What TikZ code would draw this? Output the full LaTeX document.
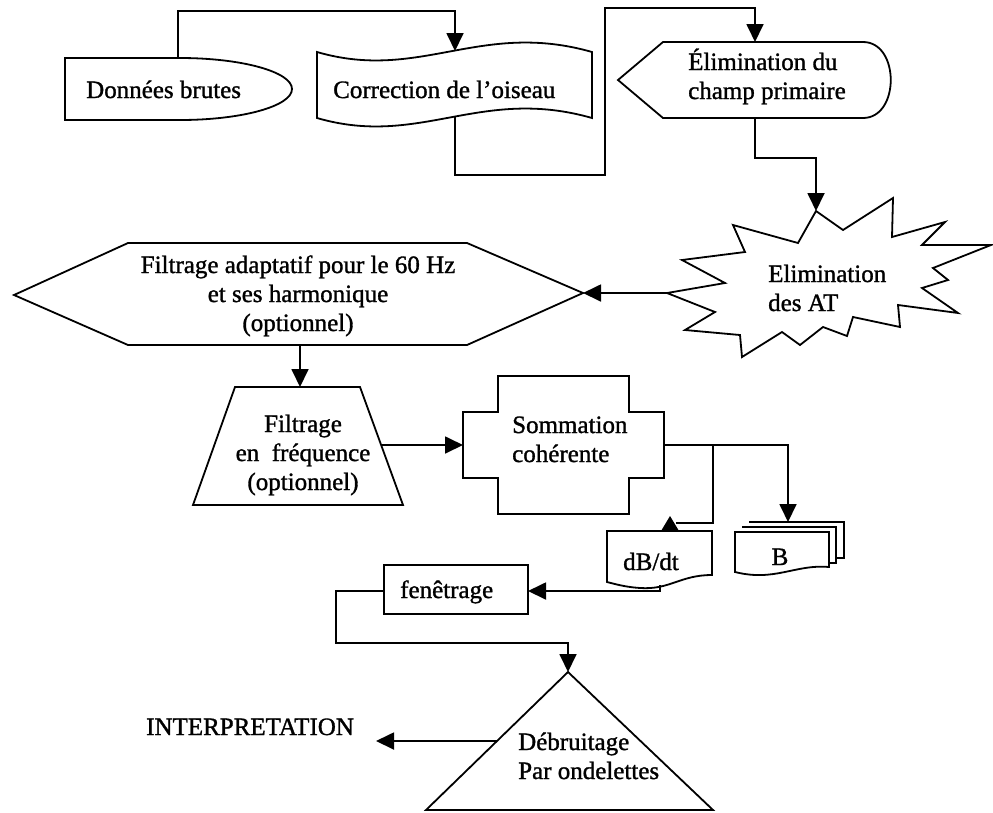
\documentclass[tikz,border=0pt]{standalone}
\usepackage{fontspec}
\setmainfont{Liberation Serif}
\newfontfamily\heavy{Liberation Serif}[FakeBold=1.2]
\usetikzlibrary{arrows.meta}
\newcommand{\mlines}[2]{\begin{tabular}[t]{@{}#1@{}}#2\end{tabular}}
\begin{document}
\begin{tikzpicture}[x=1pt,y=-1pt,
  shp/.style={draw=black, line width=1.8pt, line join=miter},
  conn/.style={draw=black, line width=1.8pt},
  arr/.style={conn, -{Triangle[length=18pt,width=17pt]}},
  lbl/.style={inner sep=0pt, font=\heavy\fontsize{25}{29}\selectfont}]
\useasboundingbox (0,0) rectangle (993,812);

% ---------- shapes ----------
% Donnees brutes (delay shape)
\draw[shp] (65,58) -- (180,58) arc[start angle=-90, end angle=90, x radius=112, y radius=31] -- (65,120) -- cycle;
% Correction de l'oiseau (punched tape)
\draw[shp] (317,52) .. controls (420,82) and (480,20) .. (592,52) -- (592,118)
  .. controls (480,86) and (420,148) .. (317,118) -- cycle;
% Elimination du champ primaire (display)
\draw[shp] (618,80) -- (663,42) -- (863,42) .. controls (900,42) and (900,118) .. (863,118) -- (663,118) -- cycle;
% Elimination des AT (burst)
\draw[shp] (816,211) -- (843,230) -- (893,198) -- (892,237) -- (945,222) -- (922,245) -- (991,245)
  -- (933,268) -- (948,280) -- (922,288) -- (958,313) -- (898,305) -- (900,327) -- (853,317)
  -- (847,336) -- (823,327) -- (800,345) -- (782,332) -- (742,357) -- (740,335) -- (685,330)
  -- (715,312) -- (667,293) -- (725,283) -- (682,260) -- (745,252) -- (733,225) -- (798,243) -- cycle;
% Hexagon
\draw[shp] (14,295) -- (128,243) -- (467,243) -- (583,293) -- (467,345) -- (128,345) -- cycle;
% Trapezoid
\draw[shp] (235,387) -- (360,387) -- (403,505) -- (193,505) -- cycle;
% Sommation (cross)
\draw[shp] (498,376) -- (629,376) -- (629,412) -- (664,412) -- (664,478) -- (629,478) -- (629,514)
  -- (498,514) -- (498,478) -- (463,478) -- (463,412) -- (498,412) -- cycle;
% dB/dt document
\draw[shp] (607,531) -- (712,531) -- (712,575) .. controls (680,575) and (670,590) .. (640,588)
  .. controls (625,587) and (615,584) .. (607,582) -- cycle;
% B multi-document
\draw[shp] (749,522) -- (844,522) -- (844,558) -- (836,558);
\draw[shp] (742,527) -- (836,527) -- (836,563) -- (829,563);
\draw[shp] (735,532) -- (829,532) -- (829,567) .. controls (795,564) and (775,582) .. (735,572) -- cycle;
% fenetrage box
\node[shp, minimum width=144pt, minimum height=49pt, inner sep=0pt] (fen) at (456,589.5) {};
% Triangle
\draw[shp] (568,672) -- (713,810) -- (426,810) -- cycle;

% ---------- labels ----------
\node[lbl, anchor=base west] (donnees) at (86,98) {Données brutes};
\node[lbl, anchor=base west] (correction) at (333,98) {Correction de l’oiseau};
\node[lbl, anchor=base west] (elimprim) at (688,70) {\mlines{l}{Élimination du\\champ primaire}};
\node[lbl, anchor=base west] (elimat) at (768,282) {\mlines{l}{Elimination\\des AT}};
\node[lbl, anchor=base] (adapt) at (298,273) {\mlines{c}{Filtrage adaptatif pour le 60 Hz\\et ses harmonique\\(optionnel)}};
\node[lbl, anchor=base] (freq) at (303,432) {\mlines{c}{Filtrage\\en~~fréquence\\(optionnel)}};
\node[lbl, anchor=base west] (somm) at (512,433) {\mlines{l}{Sommation\\cohérente}};
\node[lbl, anchor=base west] (dbdt) at (623,570) {dB/dt};
\node[lbl, anchor=base] (btxt) at (780,565) {B};
\node[lbl, anchor=base west] (fentxt) at (400,598) {fenêtrage};
\node[lbl, anchor=base west] (debr) at (518,750) {\mlines{l}{Débruitage\\Par ondelettes}};
\node[lbl, anchor=base west] (interp) at (146,735) {INTERPRETATION};

% ---------- connector end points ----------
\coordinate (dbTop) at (178,58);
\coordinate (coTop) at (455,51);
\coordinate (coBot) at (455,117);
\coordinate (epTop) at (755,42);
\coordinate (epBot) at (755,118);
\coordinate (stTop) at (816,211);
\coordinate (stLeft) at (667,293);
\coordinate (hxRight) at (583,293);
\coordinate (hxBot) at (300,345);
\coordinate (trTop) at (300,387);
\coordinate (trRight) at (382,445);
\coordinate (smLeft) at (463,445);
\coordinate (smRight) at (664,445);
\coordinate (split) at (713,445);
\coordinate (bTop) at (788,522);
\coordinate (dbdtIn) at (676,523);
\coordinate (dbdtBot) at (660,585);
\coordinate (fenR) at (528,591);
\coordinate (fenL) at (384,591);
\coordinate (triTop) at (568,672);
\coordinate (triLeft) at (497,741);
\coordinate (interpR) at (376,741);

% ---------- connectors ----------
\draw[arr] (dbTop) -- (178,11) -| (coTop);
\draw[arr] (coBot) -- (455,175) -- (605,175) -- (605,8) -| (epTop);
\draw[arr] (epBot) -- (755,158) -| (stTop);
\draw[arr] (stLeft) -- (hxRight);
\draw[arr] (hxBot) -- (trTop);
\draw[arr] (trRight) -- (smLeft);
\draw[arr] (smRight) -| (bTop);
\draw[conn] (split) |- (dbdtIn);
\fill (661,531) -- (679,531) -- (670,516) -- cycle;
\draw[arr] (dbdtBot) |- (fenR);
\draw[arr] (fenL) -- (336,591) |- (568,643) -- (triTop);
\draw[arr] (triLeft) -- (interpR);
\end{tikzpicture}
\end{document}
